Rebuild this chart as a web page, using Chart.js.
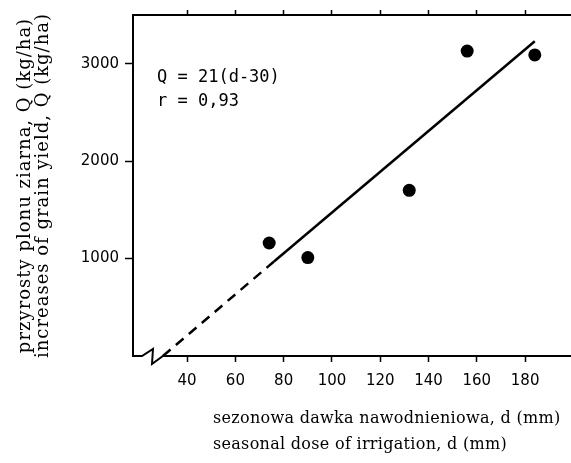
<!DOCTYPE html>
<html>
<head>
<meta charset="utf-8">
<script src="https://cdn.jsdelivr.net/npm/chart.js@4/dist/chart.umd.min.js"></script>
<style>
  html, body { margin: 0; padding: 0; background: #fff; }
  #wrap { width: 571px; height: 463px; position: relative; }
</style>
</head>
<body>
<div id="wrap"><canvas id="chart"></canvas></div>
<script>
// measured points: seasonal irrigation dose d (mm) vs yield increase Q (kg/ha)
var doseMm = [74, 90, 132, 156, 184];
var yieldKg = [1160, 1010, 1700, 3130, 3090];

// regression Q = 21(d-30): solid over the data, dashed extrapolation to zero
var fitSolidD = [76, 184];
var fitSolidQ = [970, 3230];
var fitDashD = [30, 76];
var fitDashQ = [0, 970];

var xTicks = [40, 60, 80, 100, 120, 140, 160, 180];
var yTicks = [1000, 2000, 3000];

var eqLines = ['Q = 21(d-30)', 'r = 0,93'];
var xTitle = ['sezonowa dawka nawodnieniowa, d (mm)', 'seasonal dose of irrigation, d (mm)'];
var yTitle = ['przyrosty plonu ziarna, Q (kg/ha)', 'increases of grain yield, Q (kg/ha)'];

var X_MIN = 17.6, X_MAX = 199, Y_MAX = 3500;

function pairs(xs, ys) {
  var out = [], i;
  for (i = 0; i < xs.length; i++) out.push({x: xs[i], y: ys[i]});
  return out;
}

function fixedTicks(list) {
  return function(scale) {
    scale.ticks = list.map(function(v) { return {value: v}; });
  };
}

function plainLabel(v) { return String(v); }

var tickFont = {family: 'DejaVu Sans', size: 15};

// bottom axis line starts at d=30, with a break mark next to the corner;
// also the equation box and the two-line axis titles
var framePlugin = {
  id: 'frame',
  afterDraw: function(chart) {
    var ctx = chart.ctx, area = chart.chartArea, x = chart.scales.x;
    var x30 = x.getPixelForValue(30);
    var b = area.bottom, l = area.left, i;
    ctx.save();
    ctx.strokeStyle = '#000';
    ctx.lineWidth = 2;
    ctx.beginPath();
    ctx.moveTo(l, b);
    ctx.lineTo(l + 9, b);
    ctx.lineTo(l + 20, b - 7);
    ctx.lineTo(l + 19, b + 8);
    ctx.lineTo(x30, b);
    ctx.lineTo(area.right, b);
    ctx.stroke();

    ctx.fillStyle = '#000';
    ctx.textBaseline = 'middle';
    ctx.textAlign = 'left';
    ctx.font = '17px "DejaVu Sans Mono"';
    ctx.fillText(eqLines[0], l + 24, area.top + 63);
    ctx.fillText(eqLines[1], l + 24, area.top + 87);

    ctx.letterSpacing = '0.3px';
    ctx.font = '16px "DejaVu Serif"';
    for (i = 0; i < xTitle.length; i++) {
      ctx.fillText(xTitle[i], l + 80, b + 63 + i * 26);
    }

    ctx.letterSpacing = '1px';
    ctx.font = '18px "DejaVu Serif"';
    ctx.textAlign = 'center';
    ctx.translate(25, (area.top + b) / 2);
    ctx.rotate(-Math.PI / 2);
    for (i = 0; i < yTitle.length; i++) {
      ctx.fillText(yTitle[i], 0, i * 18);
    }
    ctx.restore();
  }
};

new Chart(document.getElementById('chart'), {
  type: 'scatter',
  data: {
    datasets: [
      {
        data: pairs(fitSolidD, fitSolidQ),
        showLine: true,
        borderColor: '#000',
        borderWidth: 2.5,
        pointRadius: 0
      },
      {
        data: pairs(fitDashD, fitDashQ),
        showLine: true,
        borderColor: '#000',
        borderWidth: 2.5,
        borderDash: [10, 7],
        pointRadius: 0
      },
      {
        data: pairs(doseMm, yieldKg),
        showLine: false,
        pointRadius: 6.5,
        pointBackgroundColor: '#000',
        pointBorderColor: '#000',
        pointBorderWidth: 0
      }
    ]
  },
  options: {
    responsive: true,
    maintainAspectRatio: false,
    animation: false,
    layout: {padding: 0, autoPadding: false},
    plugins: {
      legend: {display: false},
      tooltip: {enabled: false}
    },
    scales: {
      x: {
        type: 'linear',
        position: 'bottom',
        min: X_MIN,
        max: X_MAX,
        afterBuildTicks: fixedTicks(xTicks),
        afterFit: function(scale) {
          scale.height = 107;
          scale.paddingLeft = 0;
          scale.paddingRight = 0;
        },
        border: {display: false},
        grid: {drawOnChartArea: false, drawTicks: true, tickLength: 6, tickColor: '#000', tickWidth: 1.5},
        ticks: {color: '#000', font: tickFont, padding: 10, maxRotation: 0, callback: plainLabel}
      },
      x2: {
        type: 'linear',
        position: 'top',
        min: X_MIN,
        max: X_MAX,
        afterBuildTicks: fixedTicks(xTicks),
        afterFit: function(scale) {
          scale.height = 13;
          scale.paddingLeft = 0;
          scale.paddingRight = 0;
        },
        border: {display: true, color: '#000', width: 2},
        grid: {drawOnChartArea: false, drawTicks: true, tickLength: 5, tickColor: '#000', tickWidth: 1.5},
        ticks: {display: false}
      },
      y: {
        type: 'linear',
        min: 0,
        max: Y_MAX,
        afterBuildTicks: fixedTicks(yTicks),
        afterFit: function(scale) { scale.width = 133; },
        border: {display: true, color: '#000', width: 2},
        grid: {drawOnChartArea: false, drawTicks: true, tickLength: 8, tickColor: '#000', tickWidth: 1.5},
        ticks: {color: '#000', font: tickFont, padding: 6, callback: plainLabel}
      }
    }
  },
  plugins: [framePlugin]
});
</script>
</body>
</html>
